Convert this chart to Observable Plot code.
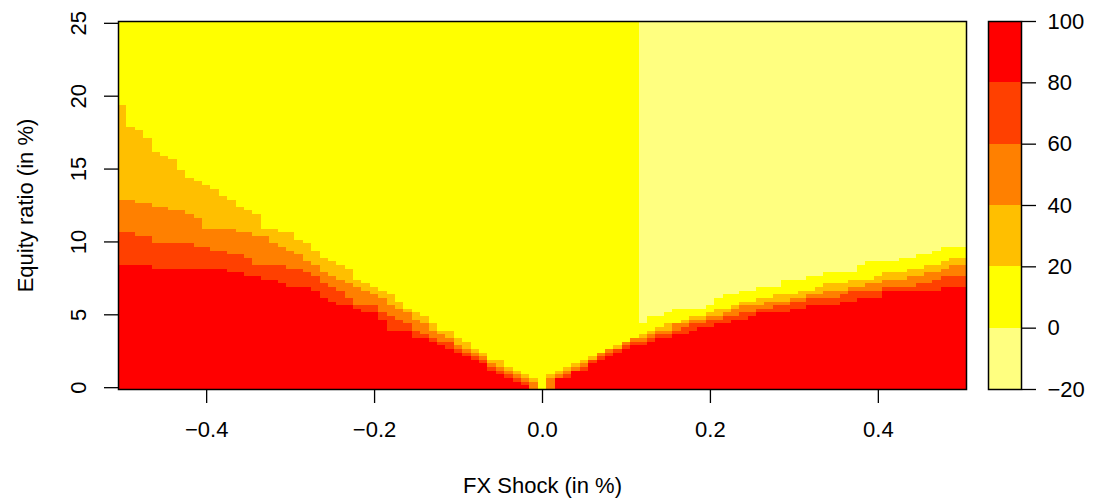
<!DOCTYPE html>
<html><head><meta charset="utf-8">
<script src="https://cdn.jsdelivr.net/npm/d3@7"></script>
<script src="https://cdn.jsdelivr.net/npm/@observablehq/plot@0.6"></script>
<style>
body{margin:0;background:#fff;}
#wrap{position:relative;width:1094px;height:504px;background:#fff;}
#main{position:absolute;left:0;top:0}
#legend{position:absolute;left:980px;top:0}
</style></head><body><div id="wrap"><div id="main"></div><div id="legend"></div></div>
<script>
// FX shock grid (x), in %
const xShock = [
-0.50,-0.49,-0.48,-0.47,-0.46,-0.45,-0.44,-0.43,-0.42,-0.41,
-0.40,-0.39,-0.38,-0.37,-0.36,-0.35,-0.34,-0.33,-0.32,-0.31,
-0.30,-0.29,-0.28,-0.27,-0.26,-0.25,-0.24,-0.23,-0.22,-0.21,
-0.20,-0.19,-0.18,-0.17,-0.16,-0.15,-0.14,-0.13,-0.12,-0.11,
-0.10,-0.09,-0.08,-0.07,-0.06,-0.05,-0.04,-0.03,-0.02,-0.01,
0.00,0.01,0.02,0.03,0.04,0.05,0.06,0.07,0.08,0.09,
0.10,0.11,0.12,0.13,0.14,0.15,0.16,0.17,0.18,0.19,
0.20,0.21,0.22,0.23,0.24,0.25,0.26,0.27,0.28,0.29,
0.30,0.31,0.32,0.33,0.34,0.35,0.36,0.37,0.38,0.39,
0.40,0.41,0.42,0.43,0.44,0.45,0.46,0.47,0.48,0.49,
0.50];
// equity-ratio range of the grid (cell edges)
const yRange = [-0.125, 25.125];
// upper edge (equity ratio) of each colour band, per FX-shock column
const redTop = [
8.375,8.375,8.375,8.375,8.125,8.125,8.125,8.125,8.125,8.125,
8.125,8.125,8.125,7.875,7.875,7.625,7.625,7.375,7.375,7.125,
6.875,6.875,6.875,6.625,6.125,5.875,5.625,5.625,5.375,5.125,
5.125,4.625,3.875,3.875,3.875,3.375,3.375,3.125,2.875,2.625,
2.375,2.125,1.875,1.625,1.125,0.875,0.625,0.375,0.125,-0.125,
-0.125,-0.125,0.625,0.625,1.125,1.125,1.625,1.875,2.125,2.375,
2.625,2.875,2.875,3.125,3.375,3.375,3.625,3.625,3.875,4.125,
4.125,4.375,4.375,4.625,4.625,4.875,5.125,5.125,5.125,5.125,
5.375,5.375,5.625,5.625,5.625,5.625,5.875,5.875,6.125,6.125,
6.125,6.625,6.625,6.625,6.625,6.625,6.625,6.625,6.875,6.875,
6.875];
const orangeRedTop = [
10.625,10.625,10.375,10.375,9.875,9.875,9.875,9.875,9.875,9.625,
9.625,9.375,9.375,9.125,9.125,8.875,8.375,8.375,8.375,8.375,
8.125,8.125,7.875,7.625,7.125,6.875,6.625,6.125,5.625,5.625,
5.625,5.125,4.875,4.625,4.375,3.875,3.625,3.375,3.125,3.125,
2.625,2.375,2.125,1.875,1.375,1.125,0.875,0.625,0.375,-0.125,
-0.125,-0.125,0.625,0.875,1.125,1.375,1.875,2.125,2.375,2.625,
2.875,3.125,3.125,3.375,3.625,3.625,3.875,4.125,4.375,4.375,
4.625,4.625,4.875,4.875,5.125,5.125,5.375,5.375,5.625,5.625,
5.875,5.875,6.125,6.125,6.125,6.125,6.375,6.625,6.625,6.625,
6.625,6.875,6.875,6.875,6.875,7.125,7.125,7.375,7.625,7.625,
7.625];
const orangeTop = [
12.875,12.875,12.625,12.625,12.375,12.375,12.125,12.125,11.875,11.625,
10.875,10.875,10.875,10.875,10.625,10.625,10.375,10.375,9.875,9.625,
9.375,9.125,8.625,8.375,7.875,7.625,7.375,7.125,6.875,6.625,
6.375,6.125,5.625,5.375,5.125,4.625,4.375,3.875,3.625,3.375,
2.875,2.625,2.375,2.125,1.625,1.375,1.125,0.875,0.625,0.375,
-0.125,0.625,0.875,1.125,1.375,1.625,1.875,2.375,2.625,2.625,
3.125,3.375,3.375,3.625,3.875,3.875,4.375,4.375,4.625,4.625,
4.875,4.875,5.125,5.375,5.625,5.625,5.625,5.875,5.875,5.875,
6.125,6.125,6.375,6.375,6.625,6.625,6.625,6.875,6.875,7.125,
7.125,7.375,7.375,7.375,7.625,7.625,7.875,7.875,8.125,8.375,
8.375];
const amberTop = [
19.375,17.875,17.625,17.125,16.125,15.875,15.625,14.875,14.375,14.125,
13.875,13.625,13.125,12.875,12.375,12.125,11.875,10.875,10.875,10.625,
10.625,10.125,9.875,9.375,8.875,8.625,8.375,8.125,7.375,7.125,
6.875,6.625,6.375,5.875,5.375,5.125,4.875,4.375,3.875,3.875,
3.375,3.125,2.625,2.375,1.875,1.875,1.375,1.125,0.875,0.625,
-0.125,0.875,1.125,1.375,1.625,1.875,2.125,2.375,2.625,2.875,
3.125,3.375,3.625,3.875,4.125,4.375,4.375,4.625,4.875,4.875,
5.125,5.375,5.375,5.625,5.875,5.875,6.125,6.125,6.375,6.375,
6.375,6.625,6.625,6.875,7.125,7.125,7.125,7.375,7.375,7.375,
7.625,7.875,7.875,7.875,8.125,8.125,8.375,8.375,8.625,8.875,
8.875];
// null = yellow reaches the top (no negative region)
const yellowTop = [
null,null,null,null,null,null,null,null,null,null,
null,null,null,null,null,null,null,null,null,null,
null,null,null,null,null,null,null,null,null,null,
null,null,null,null,null,null,null,null,null,null,
null,null,null,null,null,null,null,null,null,null,
null,null,null,null,null,null,null,null,null,null,
null,null,4.375,4.875,4.875,5.125,5.375,5.375,5.375,5.375,
5.625,6.125,6.375,6.375,6.625,6.625,6.875,6.875,6.875,7.375,
7.375,7.375,7.625,7.625,7.875,7.875,7.875,7.875,8.375,8.625,
8.625,8.625,8.625,8.875,8.875,9.125,9.125,9.375,9.625,9.625,
9.625];
const xTicks = [-0.4, -0.2, 0.0, 0.2, 0.4];
const yTicks = [0, 5, 10, 15, 20, 25];
const levelBreaks = [-20, 0, 20, 40, 60, 80, 100];
const levelNames = ["-20–0", "0–20", "20–40", "40–60", "60–80", "80–100"];
const palette = ["#FFFF80", "#FFFF00", "#FFBF00", "#FF8000", "#FF4000", "#FF0000"];

const halfStep = 0.005;
const cells = [];
xShock.forEach((x, i) => {
  const tops = [redTop[i], orangeRedTop[i], orangeTop[i], amberTop[i],
                yellowTop[i] == null ? yRange[1] : yellowTop[i], yRange[1]];
  const lv = [5, 4, 3, 2, 1, 0];
  let lo = yRange[0];
  tops.forEach((t, k) => {
    if (t > lo) cells.push({x1: x - halfStep, x2: x + halfStep, y1: lo, y2: t, level: levelNames[lv[k]]});
    lo = Math.max(lo, t);
  });
});

const font = '"Liberation Sans", Arial, Helvetica, sans-serif';
const FS = 22;
const main = Plot.plot({
  width: 980, height: 504,
  marginLeft: 118, marginRight: 14, marginTop: 21, marginBottom: 115,
  style: {fontFamily: font, fontSize: FS + "px", color: "black", background: "white"},
  x: {domain: [xShock[0] - halfStep, xShock[xShock.length - 1] + halfStep]},
  y: {domain: yRange},
  color: {domain: levelNames, range: palette},
  marks: [
    Plot.rect(cells, {x1: "x1", x2: "x2", y1: "y1", y2: "y2", fill: "level", shapeRendering: "crispEdges"}),
    Plot.frame({stroke: "black", strokeWidth: 1.5}),
    Plot.axisX({ticks: xTicks, tickSize: 14, tickPadding: 18, tickFormat: d3.format(".1f"), label: null, fontSize: FS, strokeWidth: 1.3}),
    Plot.axisY({ticks: yTicks, tickSize: 14, tickFormat: () => "", label: null, strokeWidth: 1.3}),
    Plot.text(yTicks, {y: d => d, text: d => String(d), frameAnchor: "left", textAnchor: "middle", dx: -40, rotate: -90, fontSize: FS, fill: "black"}),
    Plot.text(["FX Shock (in %)"], {frameAnchor: "bottom", textAnchor: "middle", dy: 103, fontSize: FS, fill: "black"}),
    Plot.text(["Equity ratio (in %)"], {frameAnchor: "left", textAnchor: "middle", dx: -93, rotate: -90, fontSize: FS, fill: "black"})
  ]
});
document.getElementById("main").appendChild(main);

const legendBands = levelNames.map((name, k) => ({lo: levelBreaks[k], hi: levelBreaks[k + 1], level: name}));
const legend = Plot.plot({
  width: 114, height: 504,
  marginLeft: 8, marginRight: 73, marginTop: 21, marginBottom: 115,
  style: {fontFamily: font, fontSize: FS + "px", color: "black", background: "white"},
  x: {domain: [0, 1], axis: null},
  y: {domain: [levelBreaks[0], levelBreaks[levelBreaks.length - 1]]},
  color: {domain: levelNames, range: palette},
  marks: [
    Plot.rect(legendBands, {x1: 0, x2: 1, y1: "lo", y2: "hi", fill: "level", shapeRendering: "crispEdges"}),
    Plot.frame({stroke: "black", strokeWidth: 1.5}),
    Plot.axisY({anchor: "right", ticks: levelBreaks, tickSize: 14, tickPadding: 12, tickFormat: d3.format("d"), label: null, fontSize: FS, strokeWidth: 1.3})
  ]
});
document.getElementById("legend").appendChild(legend);
</script></body></html>
